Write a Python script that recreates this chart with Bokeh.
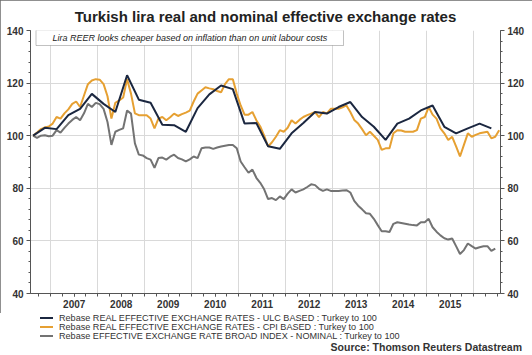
from bokeh.plotting import figure
from bokeh.layouts import column
from bokeh.models import (LinearAxis, Range1d, FixedTicker, Label,
                          BoxAnnotation, Div)
from bokeh.embed import file_html
from bokeh.resources import INLINE

title_text = "Turkish lira real and nominal effective exchange rates"
note_text = "Lira REER looks cheaper based on inflation than on unit labour costs"
source_text = "Source: Thomson Reuters Datastream"
series_names = [
    "Rebase REAL EFFECTIVE EXCHANGE RATES - ULC BASED : Turkey to 100",
    "Rebase REAL EFFECTIVE EXCHANGE RATES - CPI BASED : Turkey to 100",
    "Rebase EFFECTIVE EXCHANGE RATE BROAD INDEX - NOMINAL : Turkey to 100",
]
year_labels = [2007, 2008, 2009, 2010, 2011, 2012, 2013, 2014, 2015]
y_ticks = [40, 60, 80, 100, 120, 140]

# monthly series, first month Aug 2006
monthly_start = (2006, 8)
cpi_based = [
    100, 101.2, 102.5, 103.1, 103.5,
    104.6, 107.1, 106.5, 108.5, 110, 112.1, 113, 110.9, 115.3, 119.6, 121, 121.5,
    121.3, 119.6, 115, 106.5, 112.5, 113.4, 114.5, 121.5, 116, 108.5, 107.8, 107.8,
    107.8, 106.5, 102.8, 106.5, 107.1, 105.9, 107, 108.4, 107.5, 108.2, 108.8, 109.5,
    113, 116, 117.2, 118.4, 118, 117.7, 117, 116.5, 119.6, 121.5, 121.5, 116,
    111.5, 108, 108, 109, 105.9, 103.5, 100, 95.9, 97.5, 99.6, 102.1, 101.5,
    103, 105.9, 104.6, 106, 107.1, 107.8, 108.4, 109, 107.1, 109, 108.5, 110.2,
    110.2, 110.2, 110.8, 111.5, 109, 106, 104.6, 102.5, 100.2, 101.5, 100, 98.4,
    94.6, 95.2, 95.2, 100.9, 102.1, 102, 101.5, 101.5, 101.5, 102.1, 106.5, 107.1,
    110.9, 108, 106.5, 102.8, 100.9, 98.4, 99.6, 95.9, 92.1, 96.5, 100.9, 99.6,
    100.3, 100.9, 101.2, 101.5, 99, 99.6, 102.1,
]
nominal = [
    100, 99.2, 100, 100.2, 99.8,
    100, 102.1, 101.2, 103, 104.6, 106, 107.1, 105.9, 108.5, 112.1, 110.9, 112.5,
    112, 110.2, 105.2, 96.5, 101.5, 102.2, 102.8, 109.6, 108.4, 97.1, 92.8, 92.5,
    91.5, 90.9, 87.8, 91.5, 91.7, 90.9, 92, 92.8, 91.5, 91, 90.2, 91,
    92.1, 91.5, 95.2, 95.5, 95.5, 95, 95.5, 95.9, 96.2, 96.5, 96.5, 95.2,
    90.2, 88, 85.9, 87.1, 84, 82.1, 79.6, 75.9, 76.3, 75.5, 76.9, 75.9,
    78, 79.6, 78.4, 79, 79.6, 80.5, 81.5, 81.2, 79.8, 79, 79.6, 79,
    79, 79, 79.2, 79.3, 78.4, 75.2, 73.4, 72, 70.5, 70.3, 68.4, 66,
    63.7, 63.7, 63.4, 66.5, 67.1, 66.8, 66.5, 66.2, 66, 65.9, 67.1, 67.1,
    68.4, 65.2, 63.5, 62.1, 61, 60.5, 60.9, 58, 55, 56.5, 59, 58,
    57.1, 57.6, 58, 58, 56.2, 57.1,
]
# quarterly series, first quarter point Aug 2006, every 3 months
ulc_based = [
    100, 103,
    102.5, 107.8, 110.2, 115.9,
    112.1, 109, 123, 113.7,
    112.5, 104.2, 104, 101.5,
    110.5, 115.7, 119.1, 117.7,
    104.6, 104.8, 96, 95,
    100.9, 104.8, 109, 108.4,
    110.9, 112.8, 107.1, 103.4,
    98.4, 104.6, 106.5, 109.6,
    111.5, 103.4, 100.9, 102.8,
    104.6, 102.8,
]


def month_positions(start, n, step=1):
    y0, m0 = start
    out = []
    for i in range(n):
        k = (m0 - 1) + i * step
        y = y0 + k // 12
        m = k % 12 + 1
        out.append(y + (m - 0.5) / 12.0)
    return out


x_cpi = month_positions(monthly_start, len(cpi_based))
x_nom = month_positions(monthly_start, len(nominal))
x_ulc = month_positions(monthly_start, len(ulc_based), 3)

FONT = "Liberation Sans"
NAVY = "#1b2740"
ORANGE = "#e6a032"
GREY = "#737373"
AXIS = "#555555"
colors = [NAVY, ORANGE, GREY]

p = figure(width=532, height=313, output_backend="svg", toolbar_location=None,
           x_range=Range1d(year_labels[0] - 0.43, year_labels[-1] + 1.57),
           y_range=Range1d(y_ticks[0], y_ticks[-1]),
           min_border_left=30, min_border_right=32, min_border_top=27,
           min_border_bottom=20)
p.outline_line_color = None
p.background_fill_color = "white"
p.border_fill_color = "white"

# title
p.title.text = title_text
p.title.align = "center"
p.title.text_font = FONT
p.title.text_font_style = "bold"
p.title.text_font_size = "15px"
p.title.text_color = "#222222"
p.title.standoff = 11

# axes
yt = FixedTicker(ticks=y_ticks, minor_ticks=list(range(y_ticks[0], y_ticks[-1] + 1, 4)))
p.yaxis.ticker = yt
p.add_layout(LinearAxis(ticker=yt), "right")
for ax in p.yaxis:
    ax.major_tick_out = 4
    ax.major_tick_in = 0
    ax.minor_tick_out = 2
    ax.minor_tick_in = 0
    ax.axis_line_color = AXIS
    ax.major_tick_line_color = AXIS
    ax.minor_tick_line_color = AXIS
    ax.major_label_text_font = FONT
    ax.major_label_text_font_style = "bold"
    ax.major_label_text_font_size = "10px"
    ax.major_label_text_color = "#333333"
    ax.major_label_standoff = 3

mid_years = [y + 0.5 for y in year_labels]
quarters = [year_labels[0] - 0.25 + 0.25 * i for i in range(4 * (len(year_labels) + 2))]
xax = p.xaxis[0]
xax.ticker = FixedTicker(ticks=mid_years, minor_ticks=quarters)
xax.major_label_overrides = {m: str(y) for m, y in zip(mid_years, year_labels)}
xax.major_tick_out = 3
xax.major_tick_in = 0
xax.minor_tick_out = 3
xax.minor_tick_in = 0
xax.axis_line_color = AXIS
xax.major_tick_line_color = AXIS
xax.minor_tick_line_color = AXIS
xax.major_label_text_font = FONT
xax.major_label_text_font_style = "bold"
xax.major_label_text_font_size = "10px"
xax.major_label_text_color = "#333333"
xax.major_label_standoff = 3

# grids
p.xgrid.ticker = FixedTicker(ticks=list(range(year_labels[0], year_labels[-1] + 2)))
p.ygrid.ticker = FixedTicker(ticks=y_ticks[1:-1])
p.xgrid.grid_line_color = "#d9d9d9"
p.ygrid.grid_line_color = "#d9d9d9"

# lines
p.line(x_nom, nominal, line_color=GREY, line_width=2)
p.line(x_cpi, cpi_based, line_color=ORANGE, line_width=2)
p.line(x_ulc, ulc_based, line_color=NAVY, line_width=2)

# note box
p.add_layout(BoxAnnotation(left=5.5, right=313, top=263.5, bottom=248,
                           left_units="screen", right_units="screen",
                           top_units="screen", bottom_units="screen",
                           fill_color="white", fill_alpha=1,
                           line_color="#333333", line_width=1))
p.add_layout(Label(x=22, y=255.5, x_units="screen", y_units="screen",
                   text=note_text, text_font=FONT, text_font_style="italic",
                   text_font_size="9px", text_color="#222222",
                   text_baseline="middle"))

# legend + source strip (HTML)
row_centers = [4, 13, 22]
rows = []
for name, c, yc in zip(series_names, colors, row_centers):
    rows.append(
        f'<div style="position:absolute;left:40px;top:{yc - 5}px;height:10px;'
        f'line-height:10px;white-space:nowrap;">'
        f'<span style="display:inline-block;width:13px;height:0;'
        f'border-top:2px solid {c};vertical-align:middle;margin-right:6px;"></span>'
        f'<span style="font-family:\'{FONT}\';font-size:9.1px;color:#333333;'
        f'vertical-align:middle;">{name}</span></div>')
rows.append(
    f'<div style="position:absolute;right:10px;top:28px;height:13px;line-height:13px;'
    f'white-space:nowrap;font-family:\'{FONT}\';font-size:10.5px;font-weight:bold;'
    f'color:#333333;">{source_text}</div>')
html = ('<div style="position:relative;width:532px;height:42px;background:white;">'
        + "".join(rows) + '</div>')
div = Div(text=html, width=532, height=42, margin=(0, 0, 0, 0))

layout = column(p, div, spacing=0)
layout.styles = {"outline": "2px solid #6b6b6b", "outline-offset": "-2px"}

open("out.html", "w").write(file_html(layout, INLINE))
